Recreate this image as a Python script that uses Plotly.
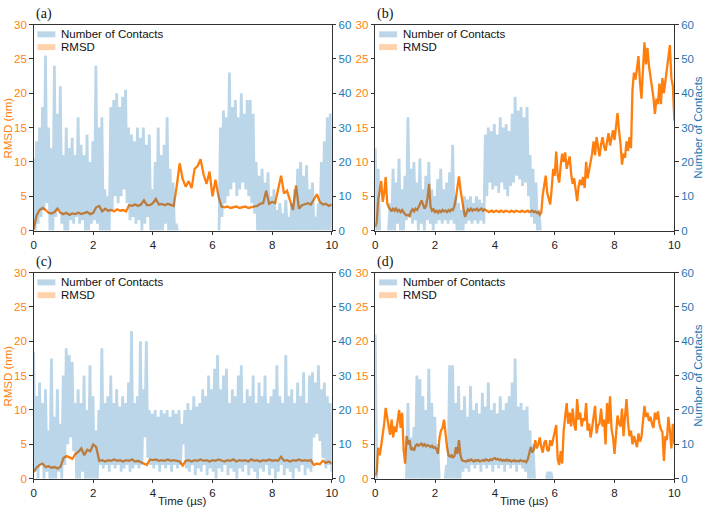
import numpy as np
import plotly.graph_objects as go

# ---------------- data ----------------
panel_labels = ["(a)", "(b)", "(c)", "(d)"]
time_label = "Time (µs)"
rmsd_label = "RMSD (nm)"
contacts_label = "Number of Contacts"
legend_names = ["Number of Contacts", "RMSD"]
x_ticks = [0, 2, 4, 6, 8, 10]
rmsd_ticks = [0, 5, 10, 15, 20, 25, 30]
contact_ticks = [0, 10, 20, 30, 40, 50, 60]

# RMSD (nm), panel (a), every 0.1 us
rmsd_a = [0.2, 2.2, 3.0, 3.3, 3.0, 2.6, 2.5, 2.7, 3.2, 2.6,
          2.4, 2.6, 2.3, 2.5, 2.4, 2.6, 2.4, 2.5, 2.7, 2.4,
          2.6, 3.4, 3.6, 2.8, 3.2, 2.9, 3.0, 2.8, 3.1, 2.9,
          3.0, 2.8, 3.7, 3.6, 3.8, 3.6, 3.8, 4.4, 3.7, 3.7,
          4.0, 4.6, 3.8, 3.9, 3.7, 3.9, 3.8, 3.6, 6.5, 9.8,
          7.5, 6.4, 7.2, 6.2, 9.0, 9.4, 10.4, 8.2, 6.8, 8.6,
          5.0, 7.4, 5.0, 3.5, 3.4, 3.5, 3.3, 3.4, 3.5, 3.3,
          3.4, 3.5, 3.3, 3.4, 3.5, 3.6, 3.9, 4.0, 5.8, 3.9,
          4.2, 4.0, 6.0, 8.0, 5.4, 5.8, 4.4, 3.0, 6.6, 3.2,
          3.7, 3.9, 4.0, 3.8, 4.6, 5.3, 4.2, 3.8, 3.9, 3.6,
          3.8]
contacts_hi_a = [21, 26, 30, 36, 51, 30, 24, 48, 34, 42,
                 22, 30, 24, 27, 22, 33, 25, 22, 28, 20,
                 26, 48, 30, 33, 12, 10, 36, 38, 40, 36,
                 39, 41, 30, 28, 26, 30, 27, 30, 25, 28,
                 12, 20, 30, 22, 25, 33, 18, 14, 2, 0,
                 0, 0, 0, 0, 0, 0, 0, 0, 0, 0,
                 0, 0, 0, 30, 35, 33, 46, 36, 38, 33,
                 40, 34, 38, 38, 34, 20, 16, 18, 14, 17,
                 10, 12, 6, 8, 5, 9, 4, 8, 12, 18,
                 20, 16, 19, 12, 14, 4, 8, 20, 26, 33,
                 34]
contacts_lo_a = [0, 2, 4, 6, 8, 0, 0, 4, 6, 2,
                 0, 0, 3, 2, 4, 2, 3, 0, 0, 2,
                 3, 2, 0, 0, 0, 0, 6, 10, 8, 10,
                 12, 8, 3, 4, 2, 3, 0, 2, 4, 0,
                 0, 0, 0, 0, 2, 0, 0, 0, 0, 0,
                 0, 0, 0, 0, 0, 0, 0, 0, 0, 0,
                 0, 0, 0, 4, 8, 10, 12, 14, 10, 12,
                 14, 12, 10, 8, 5, 0, 0, 0, 0, 0,
                 0, 0, 0, 0, 0, 0, 0, 0, 0, 0,
                 0, 0, 0, 0, 0, 0, 0, 0, 0, 0,
                 0]

# panel (b), RMSD every 0.05 us, contacts every 0.1 us
rmsd_b = [0.5, 1.2, 4.5, 6.0, 7.2, 4.2, 5.5, 7.8, 4.0, 3.4,
          3.1, 2.8, 3.3, 2.9, 3.2, 2.8, 3.0, 2.7, 3.0, 2.6,
          2.4, 2.2, 2.3, 2.1, 2.8, 3.1, 2.8, 3.2, 3.0, 3.4,
          4.0, 4.4, 3.8, 3.2, 3.6, 4.8, 6.8, 3.5, 2.9, 3.1,
          2.7, 2.9, 2.6, 2.9, 2.7, 3.0, 2.8, 2.9, 2.7, 3.0,
          2.8, 3.1, 3.0, 3.6, 4.8, 6.4, 7.9, 6.0, 4.4, 3.2,
          2.0, 2.6, 3.1, 2.9, 3.2, 2.9, 3.1, 3.0, 3.2, 2.9,
          3.0, 3.2, 2.9, 3.1, 3.0,
          2.9, 2.7, 2.8, 2.9, 2.7, 2.8, 2.9, 2.8, 2.7, 2.9,
          2.8, 2.7, 2.9, 2.8, 2.8, 2.7, 2.9, 2.8, 2.7, 2.9,
          2.8, 2.8, 2.7, 2.9, 2.8, 2.7, 2.8, 2.9, 2.7, 2.8,
          2.9, 2.7, 2.8, 2.6, 2.7,
          2.3, 2.6, 5.2, 6.4, 8.0, 5.5, 4.4, 3.8, 6.2, 9.0,
          8.0, 11.5, 8.0, 7.0, 9.5, 11.2, 10.0, 11.4, 9.0, 10.0,
          10.8, 8.2, 6.8, 7.6, 5.8, 4.3, 6.5, 7.4, 6.6, 7.8,
          6.2, 10.0, 7.6, 8.8, 9.8, 11.2, 13.0, 11.0, 13.6, 11.8,
          10.8, 12.6, 13.6, 12.2, 11.6, 13.0, 14.2, 12.4, 13.4, 14.6,
          13.2, 15.4, 17.1, 14.6, 12.6, 9.6, 11.2, 10.6, 13.0, 11.6,
          13.6, 12.0, 20.5, 23.0, 22.0, 23.6, 25.4, 21.6, 19.2, 23.4,
          27.4, 24.2, 26.6, 24.0, 22.6, 21.0, 19.4, 17.0, 19.2, 18.4,
          21.4, 18.4, 22.2, 20.0, 21.8, 23.4, 24.8, 27.0, 22.2, 21.0,
          16.0]
contacts_hi_b = [24, 18, 0, 0, 0, 8, 18, 14, 21, 12,
                 16, 33, 18, 20, 14, 21, 12, 16, 20, 12,
                 10, 15, 18, 12, 14, 17, 25, 10, 8, 6,
                 10, 9, 10, 8, 10, 9, 8, 28, 30, 29,
                 31, 28, 33, 30, 31, 29, 34, 39, 35, 36,
                 33, 36, 22, 18, 14, 6, 0, 0, 0, 0,
                 0, 0, 0, 0, 0, 0, 0, 0, 0, 0,
                 0, 0, 0, 0, 0, 0, 0, 0, 0, 0,
                 0, 0, 0, 0, 0, 0, 0, 0, 0, 0,
                 0, 0, 0, 0, 0, 0, 0, 0, 0, 0,
                 0]
contacts_lo_b = [0, 0, 0, 0, 0, 0, 0, 2, 0, 0,
                 3, 4, 2, 3, 0, 2, 0, 3, 2, 0,
                 2, 3, 2, 3, 2, 3, 2, 0, 0, 0,
                 2, 3, 2, 3, 2, 3, 2, 10, 14, 12,
                 13, 11, 14, 12, 10, 13, 14, 16, 15, 13,
                 14, 10, 4, 2, 0, 0, 0, 0, 0, 0,
                 0, 0, 0, 0, 0, 0, 0, 0, 0, 0,
                 0, 0, 0, 0, 0, 0, 0, 0, 0, 0,
                 0, 0, 0, 0, 0, 0, 0, 0, 0, 0,
                 0, 0, 0, 0, 0, 0, 0, 0, 0, 0,
                 0]

# panel (c), every 0.1 us
rmsd_c = [1.0, 1.6, 2.0, 2.2, 1.7, 1.8, 1.6, 1.7, 1.5, 1.7,
          3.0, 3.3, 3.1, 2.9, 3.6, 3.9, 4.4, 3.4, 4.2, 4.0,
          5.0, 4.6, 2.6, 2.7, 2.5, 2.7, 2.6, 2.8, 2.6, 2.7,
          2.5, 2.7, 2.6, 2.8, 2.5, 2.6, 2.4, 2.2, 2.0, 2.8,
          2.7, 2.8, 2.6, 2.7, 2.6, 2.8, 2.6, 2.7, 2.6, 2.5,
          1.9, 2.6, 2.7, 2.5, 2.7, 2.6, 2.8, 2.6, 2.7, 2.5,
          2.7, 2.6, 2.8, 2.6, 2.5, 2.7, 2.6, 2.8, 2.5, 2.7,
          2.6, 2.7, 2.5, 2.8, 2.6, 2.7, 2.5, 2.7, 2.6, 2.8,
          2.6, 2.7, 2.6, 3.2, 2.6, 2.7, 2.5, 2.7, 2.6, 2.8,
          2.6, 2.7, 2.6, 2.7, 2.0, 2.2, 2.1, 2.6, 2.3, 2.5,
          2.2]
contacts_hi_c = [37, 24, 28, 22, 26, 14, 35, 18, 26, 16,
                 30, 38, 36, 34, 22, 26, 22, 30, 20, 33,
                 24, 14, 20, 38, 22, 24, 30, 22, 26, 21,
                 24, 22, 28, 43, 22, 24, 40, 26, 40, 20,
                 19, 20, 18, 20, 19, 20, 18, 20, 19, 20,
                 16, 20, 22, 20, 24, 21, 22, 26, 24, 30,
                 26, 32, 36, 26, 30, 32, 22, 26, 24, 30,
                 33, 22, 26, 24, 30, 22, 28, 24, 30, 22,
                 24, 26, 33, 24, 22, 36, 24, 26, 22, 28,
                 24, 31, 22, 30, 31, 28, 33, 26, 28, 24,
                 22]
contacts_lo_c = [2, 0, 4, 0, 2, 0, 0, 0, 2, 0,
                 4, 10, 12, 8, 0, 0, 2, 0, 0, 0,
                 0, 0, 4, 3, 4, 2, 4, 3, 4, 2,
                 3, 4, 2, 3, 4, 3, 4, 12, 6, 4,
                 3, 4, 2, 4, 3, 4, 2, 4, 3, 4,
                 10, 3, 2, 4, 1, 3, 2, 4, 1, 3,
                 2, 0, 3, 2, 4, 1, 3, 2, 0, 3,
                 2, 4, 1, 3, 2, 0, 3, 2, 4, 1,
                 3, 0, 2, 4, 1, 3, 2, 0, 3, 2,
                 4, 1, 3, 2, 12, 13, 11, 6, 3, 4,
                 2]

# panel (d), RMSD every 0.05 us, contacts every 0.1 us
rmsd_d = [0.4, 1.0, 4.5, 3.4, 4.8, 6.2, 8.0, 10.3, 9.2, 7.6,
          6.4, 8.6, 6.0, 7.6, 6.8, 8.2, 10.0, 7.4, 9.6, 4.2,
          2.2, 6.2, 5.0, 5.6, 4.2, 4.4, 4.1, 4.8, 5.0, 4.8,
          4.9, 5.1, 4.8, 5.0, 4.7, 4.9, 4.8, 4.6, 4.8, 4.5,
          4.6, 4.3, 3.6, 6.0, 7.0, 7.4, 8.6, 6.4, 4.6, 3.4,
          3.2, 3.4, 3.1, 3.3, 4.6, 3.6, 5.6, 3.4, 2.7, 2.6,
          2.6, 2.5, 2.7, 2.6, 2.8, 2.6, 2.5, 2.7, 2.6, 2.7,
          2.5, 2.6, 2.7, 2.6, 2.8, 2.7, 2.6, 2.8, 2.7, 2.9,
          3.0, 2.8, 2.9, 2.7, 2.8, 2.6, 2.7, 2.6, 2.8, 2.6,
          2.7, 2.5, 2.6, 2.7, 2.5, 2.6, 2.5, 2.7, 2.6, 2.5,
          2.6,
          2.4, 2.8, 3.8, 4.6, 3.8, 4.2, 5.6, 4.4, 5.0, 6.0,
          4.6, 3.8, 5.2, 5.6, 4.2, 4.0, 5.6, 4.8, 5.8,
          6.6, 7.8, 2.8, 2.0, 4.0, 2.2, 7.0, 9.6, 11.0, 8.0,
          9.6, 7.6, 10.2, 8.0, 7.0, 11.6, 8.6, 9.6, 7.6, 8.8,
          8.4, 11.0, 7.0, 8.0, 6.0, 7.4, 9.0, 10.6, 6.6, 7.8,
          8.0, 10.2, 7.6, 8.6, 5.0, 11.0, 8.0, 12.0, 7.2, 6.0,
          3.6, 7.0, 9.2, 8.0, 7.6, 10.2, 6.2, 9.0, 11.6, 8.2,
          6.2, 7.0, 5.0, 6.2, 5.4, 4.6, 6.6, 5.4, 6.0, 8.0,
          10.6, 9.0, 9.6, 8.4, 9.0, 8.0, 7.4, 9.6, 8.6, 9.8,
          8.0, 7.2, 6.8, 2.6, 6.2, 5.6, 9.0, 7.0, 4.4, 8.0,
          5.0]
contacts_hi_d = [42, 0, 0, 0, 0, 0, 0, 0, 0, 0,
                 0, 22, 12, 15, 30, 29, 24, 20, 32, 22,
                 18, 10, 0, 0, 4, 33, 33, 22, 27, 20,
                 24, 18, 27, 20, 22, 19, 25, 21, 28, 20,
                 22, 19, 24, 20, 22, 24, 28, 35, 21, 22,
                 20, 21, 14, 10, 0, 0, 0, 0, 2, 2,
                 0, 0, 0, 0, 0, 0, 0, 0, 0, 0,
                 0, 0, 0, 0, 0, 0, 0, 0, 0, 0,
                 0, 0, 0, 0, 0, 0, 0, 0, 0, 0,
                 0, 0, 0, 0, 0, 0, 0, 0, 0, 0,
                 0]
contacts_lo_d = [0, 0, 0, 0, 0, 0, 0, 0, 0, 0,
                 0, 0, 0, 0, 0, 0, 0, 0, 0, 0,
                 0, 0, 0, 0, 0, 0, 0, 0, 0, 2,
                 3, 2, 4, 3, 4, 2, 4, 3, 4, 2,
                 4, 3, 4, 2, 4, 3, 4, 2, 4, 3,
                 2, 0, 0, 0, 0, 0, 0, 0, 0, 0,
                 0, 0, 0, 0, 0, 0, 0, 0, 0, 0,
                 0, 0, 0, 0, 0, 0, 0, 0, 0, 0,
                 0, 0, 0, 0, 0, 0, 0, 0, 0, 0,
                 0, 0, 0, 0, 0, 0, 0, 0, 0, 0,
                 0]

rmsd_series = [rmsd_a, rmsd_b, rmsd_c, rmsd_d]
contacts_hi = [contacts_hi_a, contacts_hi_b, contacts_hi_c, contacts_hi_d]
contacts_lo = [contacts_lo_a, contacts_lo_b, contacts_lo_c, contacts_lo_d]

# ---------------- styling ----------------
W, H = 709, 513
ORANGE = "#ff7f0e"
BLUE = "#1f77b4"
BLUE_FILL = "rgba(31,119,180,0.3)"
ORANGE_PATCH = "rgba(255,127,14,0.35)"
SPINE = "#333333"
SANS = "Liberation Sans, Arial, Helvetica, sans-serif"
SERIF = "Liberation Serif, Times New Roman, serif"
FS = 11.5

x_doms = [(31 / W, 333 / W), (377 / W, 680 / W)]
y_doms = [(1 - 230 / H, 1 - 19 / H), (1 - 484 / H, 1 - 273 / H)]

fig = go.Figure()
layout = dict(width=W, height=H, margin=dict(l=0, r=0, t=0, b=0),
              paper_bgcolor="white", plot_bgcolor="white", showlegend=False,
              font=dict(family=SANS, size=FS, color="#222"))
shapes, annotations = [], []

for i in range(4):
    row, col = divmod(i, 2)
    n = i + 1
    xname = "x" if n == 1 else f"x{n}"
    yl = 2 * i + 1
    yr = 2 * i + 2
    ylname = "y" if yl == 1 else f"y{yl}"
    yrname = f"y{yr}"

    layout["xaxis" if n == 1 else f"xaxis{n}"] = dict(
        domain=list(x_doms[col]), anchor=ylname, range=[0, 10],
        tickvals=x_ticks, ticks="outside", ticklen=3.5, tickcolor=SPINE,
        showline=True, linecolor=SPINE, linewidth=1, mirror=True,
        showgrid=False, zeroline=False, tickfont=dict(size=FS, color="#222"))
    layout["yaxis" if yl == 1 else f"yaxis{yl}"] = dict(
        domain=list(y_doms[row]), anchor=xname, range=[0, 30],
        tickvals=rmsd_ticks, ticks="outside", ticklen=3.5, tickcolor=SPINE,
        showline=True, linecolor=SPINE, linewidth=1, side="left",
        showgrid=False, zeroline=False, tickfont=dict(size=FS, color=ORANGE))
    layout[f"yaxis{yr}"] = dict(
        overlaying=ylname, anchor=xname, side="right", range=[0, 60],
        tickvals=contact_ticks, ticks="outside", ticklen=3.5, tickcolor=SPINE,
        showline=True, linecolor=SPINE, linewidth=1, ticklabelstandoff=0,
        showgrid=False, zeroline=False, tickfont=dict(size=FS, color=BLUE))

    r = rmsd_series[i]
    tr = np.linspace(0, 10, len(r))
    fig.add_trace(go.Scatter(x=tr, y=r, mode="lines",
                             line=dict(color=ORANGE, width=2.3),
                             xaxis=xname, yaxis=ylname, hoverinfo="skip"))
    # contacts: fluctuating signal alternating between its high and low readings
    hi = contacts_hi[i]
    lo = contacts_lo[i]
    zig = []
    for h, l in zip(hi, lo):
        zig.extend([h, l])
    # stretches with no contacts at all are left undrawn (no line along zero)
    zig_plot = []
    for j, v in enumerate(zig):
        prev_zero = j == 0 or zig[j - 1] == 0
        next_zero = j == len(zig) - 1 or zig[j + 1] == 0
        zig_plot.append(None if (v == 0 and prev_zero and next_zero) else v)
    tc = np.linspace(0, 10, len(zig))
    fig.add_trace(go.Scatter(x=tc, y=zig_plot, mode="lines", connectgaps=False,
                             line=dict(width=2.8, color=BLUE_FILL),
                             xaxis=xname, yaxis=yrname, hoverinfo="skip"))

    # legend drawn inside each panel
    xd = f"{xname} domain"
    yd = f"{ylname} domain"
    for k, (col_patch, name) in enumerate(zip([BLUE_FILL, ORANGE_PATCH], legend_names)):
        y_top = 0.967 - k * 0.062
        shapes.append(dict(type="rect", xref=xd, yref=yd, x0=0.013, x1=0.073,
                           y0=y_top - 0.029, y1=y_top, fillcolor=col_patch,
                           line=dict(width=0), layer="above"))
        annotations.append(dict(text=name, xref=xd, yref=yd, x=0.086, y=y_top - 0.0145,
                                xanchor="left", yanchor="middle", showarrow=False,
                                font=dict(family=SANS, size=FS, color="#111")))
    # panel label
    annotations.append(dict(text=panel_labels[i], xref=xd, yref=yd, x=0.0, y=1.052,
                            xanchor="left", yanchor="middle", showarrow=False,
                            font=dict(family=SERIF, size=14, color="#111")))
    ymid = (y_doms[row][0] + y_doms[row][1]) / 2
    if col == 0:
        annotations.append(dict(text=rmsd_label, xref="paper", yref="paper",
                                x=5 / W, y=ymid, textangle=-90, xanchor="center",
                                yanchor="middle", showarrow=False,
                                font=dict(family=SANS, size=FS, color=ORANGE)))
    else:
        annotations.append(dict(text=contacts_label, xref="paper", yref="paper",
                                x=704 / W, y=ymid, textangle=-90, xanchor="center",
                                yanchor="middle", showarrow=False,
                                font=dict(family=SANS, size=FS, color=BLUE)))
    if row == 1:
        annotations.append(dict(text=time_label, xref="paper", yref="paper",
                                x=(x_doms[col][0] + x_doms[col][1]) / 2, y=1 - 507 / H,
                                xanchor="center", yanchor="middle", showarrow=False,
                                font=dict(family=SANS, size=FS, color="#222")))

layout["shapes"] = shapes
layout["annotations"] = annotations
fig.update_layout(**layout)
fig.write_html("out.html")
